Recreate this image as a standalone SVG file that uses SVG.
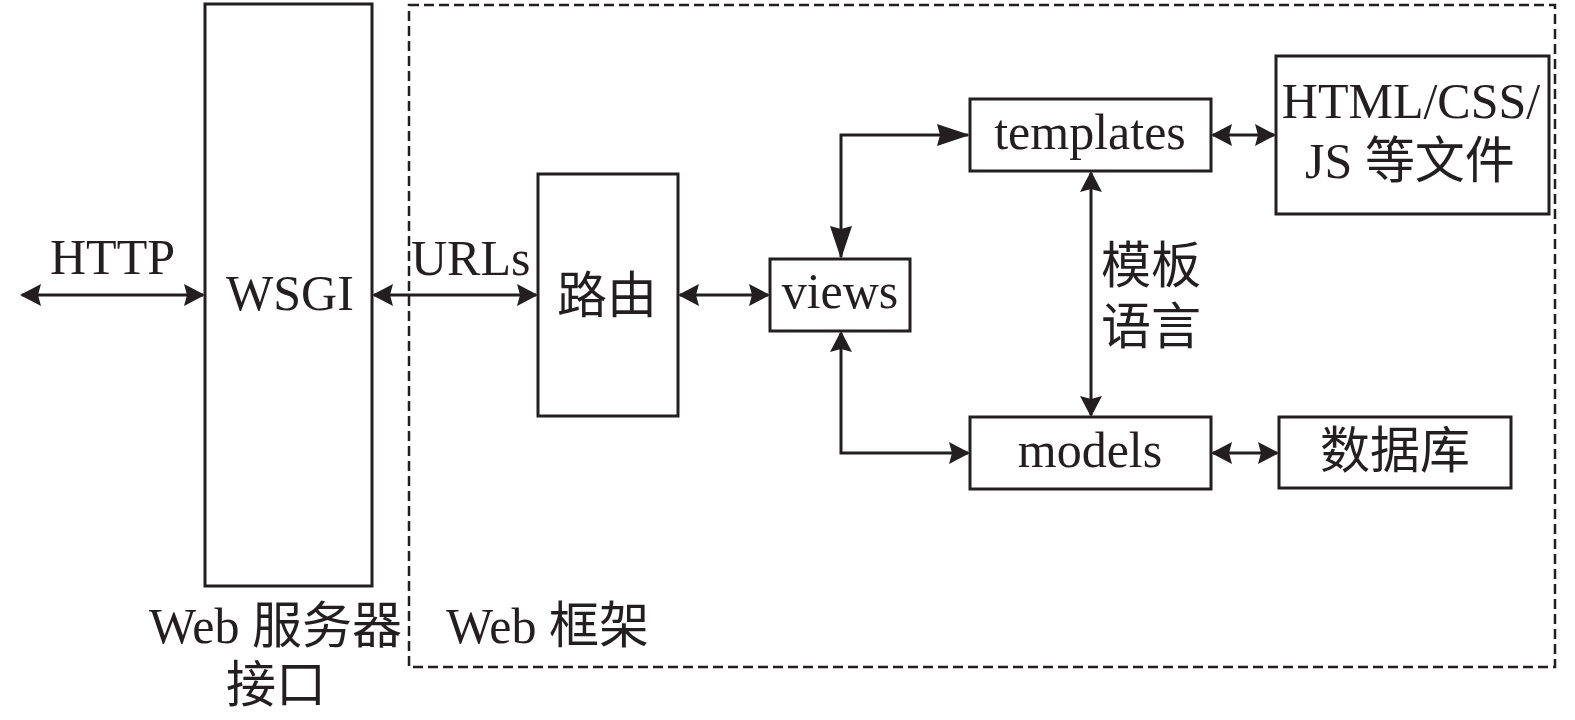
<svg xmlns="http://www.w3.org/2000/svg" width="1575" height="720" viewBox="0 0 1575 720">
<style>
.box{fill:#fff;stroke:#231f20;stroke-width:3}
.frame{fill:none;stroke:#231f20;stroke-width:2.5;stroke-dasharray:10 5}
.ln{fill:none;stroke:#231f20;stroke-width:3}
.ln.n{marker-start:url(#ah);marker-end:url(#ah)}
.ln.l{marker-start:url(#al);marker-end:url(#al)}
text{font-family:"Liberation Serif","Noto Sans CJK SC",serif;font-size:50px;fill:#231f20}
.c{text-anchor:middle}
</style>
<defs>
<marker id="ah" markerUnits="userSpaceOnUse" viewBox="0 -12 22 24" markerWidth="22" markerHeight="24" refX="19" refY="0" orient="auto-start-reverse"><path d="M0,-11 L21,0 L0,11 L3,0 z" fill="#231f20"/></marker>
<marker id="al" markerUnits="userSpaceOnUse" viewBox="0 -12 34 24" markerWidth="34" markerHeight="24" refX="31" refY="0" orient="auto-start-reverse"><path d="M0,-11 L33,0 L0,11 L3,0 z" fill="#231f20"/></marker>
</defs>
<rect id="web-framework" class="frame" x="409" y="5" width="1146" height="662"/>
<g id="wsgi"><rect class="box" x="205" y="4" width="167" height="582"/><text class="c" x="290" y="310">WSGI</text></g>
<g id="router"><rect class="box" x="538" y="174" width="140" height="242"/><text class="c" x="607" y="313">路由</text></g>
<g id="views"><rect class="box" x="770" y="259" width="140" height="72"/><text class="c" x="840" y="308">views</text></g>
<g id="templates"><rect class="box" x="970" y="99" width="241" height="72"/><text class="c" x="1090" y="149">templates</text></g>
<g id="static"><rect class="box" x="1276" y="56" width="273" height="158"/><text class="c" x="1411" y="118">HTML/CSS/</text><text class="c" x="1410" y="178">JS 等文件</text></g>
<g id="models"><rect class="box" x="970" y="417" width="241" height="72"/><text class="c" x="1090" y="467">models</text></g>
<g id="database"><rect class="box" x="1279" y="417" width="232" height="71"/><text class="c" x="1395" y="468">数据库</text></g>
<g id="connectors">
<path class="ln n" d="M22,295 H203"/>
<path class="ln n" d="M374,295 H536"/>
<path class="ln n" d="M680,295 H768"/>
<path class="ln l" d="M841,257 V135 H968"/>
<path class="ln n" d="M841,333 V453 H968"/>
<path class="ln n" d="M1091,173 V415"/>
<path class="ln n" d="M1213,135 H1274"/>
<path class="ln n" d="M1213,453 H1277"/>
</g>
<g id="labels">
<text x="50" y="274">HTTP</text>
<text x="411" y="275">URLs</text>
<text x="1101" y="283">模板</text>
<text x="1101" y="344">语言</text>
<text x="149" y="643">Web 服务器</text>
<text class="c" x="276" y="702">接口</text>
<text x="446" y="643">Web 框架</text>
</g>
</svg>
